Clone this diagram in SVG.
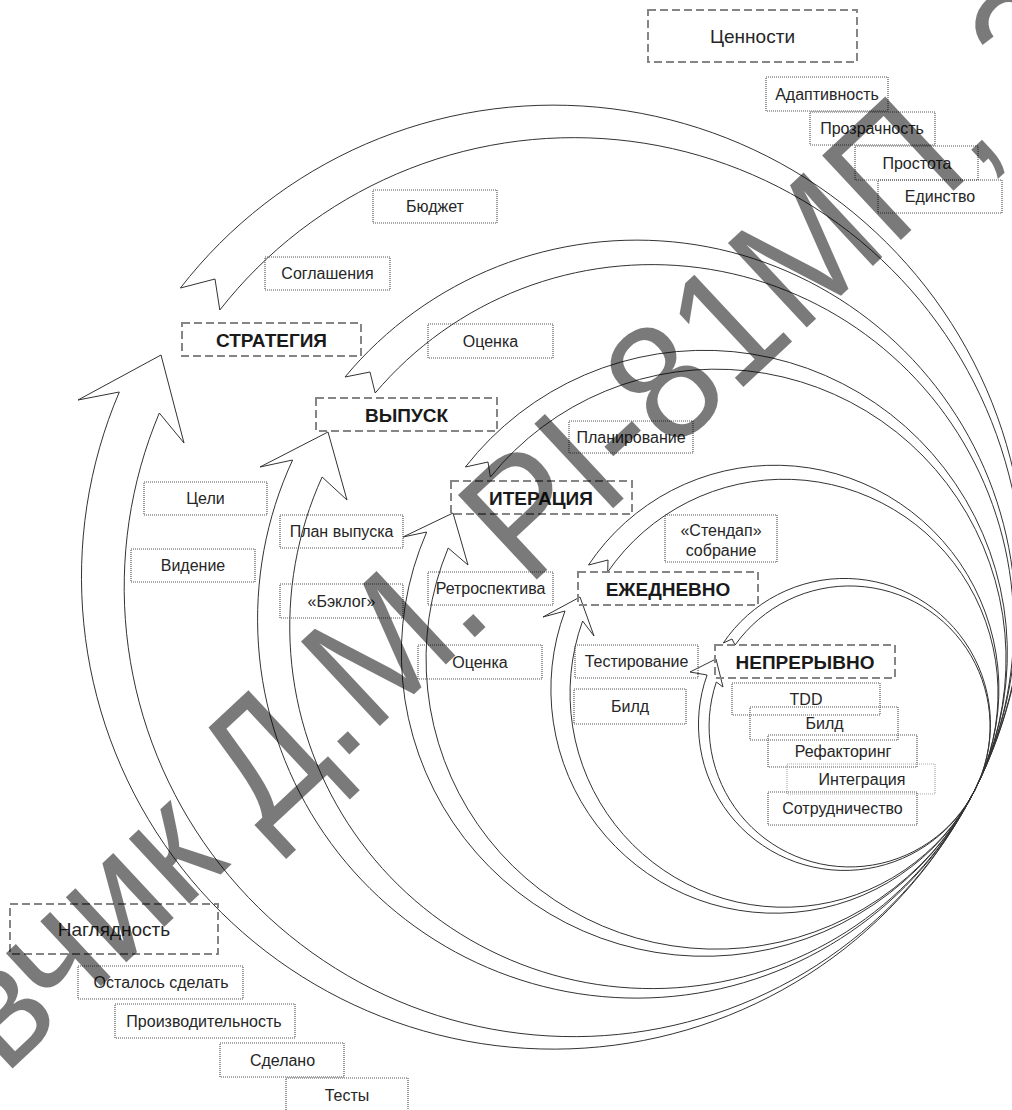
<svg xmlns="http://www.w3.org/2000/svg" width="1012" height="1110" viewBox="0 0 1012 1110">
<defs>
<style>
.ring{fill:none;stroke:#333;stroke-width:1;stroke-linejoin:miter}
.hdr{fill:none;stroke:#858585;stroke-width:2;stroke-dasharray:8 4}
.tag{fill:none;stroke:#555;stroke-width:1.2;stroke-dasharray:1 1}
.tag.light{stroke:#aaa}
.t{font-family:"Liberation Sans",Arial,sans-serif;font-size:16px;fill:#262626;text-anchor:middle;dominant-baseline:central}
.big{font-size:19px}
.h{font-family:"Liberation Sans",Arial,sans-serif;font-size:19px;font-weight:bold;fill:#1a1a1a;text-anchor:middle;dominant-baseline:central}
.wm{font-family:"Liberation Sans",Arial,sans-serif;font-size:168px;fill:#000;fill-opacity:0.52}
</style>
</defs>
<rect width="1012" height="1110" fill="#fff"/>

<!-- circular ribbon arrows, all tangent near the lower right -->
<g id="connectors">
<path id="ring-strategy" class="ring" d="M180.4,288 A472,472 0 1 1 119.3,392 L78,400 L161,355 L184,443 L159.3,413 A449.5,449.5 0 1 0 219.8,310 L215,279 Z"/>
<path id="ring-release" class="ring" d="M345,377 A379,379 0 1 1 292.6,460 L260,467 L328,432 L347,500 L322.1,477 A362,362 0 1 0 375.2,393 L370,372 Z"/>
<path id="ring-iteration" class="ring" d="M465.4,467 A303,303 0 1 1 426.7,532 L403,537 L453,513 L468,565 L448.2,548 A290,290 0 1 0 490.4,477 L488,462 Z"/>
<path id="ring-daily" class="ring" d="M588.5,565 A224,224 0 1 1 565,611 L543,617 L580,597 L594,636 L582.6,621 A214,214 0 1 0 607.7,572 L608,560 Z"/>
<path id="ring-continuous" class="ring" d="M723.3,643 A146,146 0 1 1 707.1,675 L690,672 L716,659 L723,687 L716.3,682 A140.5,140.5 0 1 0 735.1,645 L732,639 Z"/>
</g>

<!-- values -->
<g id="values"><rect class="hdr" x="648" y="10" width="209" height="52"/><text class="t big" x="752.5" y="36">Ценности</text></g>
<g id="v-adapt"><rect class="tag" x="766" y="77" width="122" height="34"/><text class="t" x="827" y="94">Адаптивность</text></g>
<g id="v-transp"><rect class="tag" x="810" y="112" width="125" height="33"/><text class="t" x="872" y="128.5">Прозрачность</text></g>
<g id="v-simple"><rect class="tag" x="855" y="146" width="123" height="34"/><text class="t" x="917" y="163">Простота</text></g>
<g id="v-unity"><rect class="tag" x="878" y="180" width="124" height="33"/><text class="t" x="940" y="196.5">Единство</text></g>

<!-- strategy level -->
<g id="strategy"><rect class="hdr" x="182" y="323" width="179" height="33"/><text class="h" x="271.5" y="340">СТРАТЕГИЯ</text></g>
<g id="budget"><rect class="tag" x="373" y="190" width="124" height="33"/><text class="t" x="435" y="206.5">Бюджет</text></g>
<g id="agreements"><rect class="tag" x="265" y="257" width="125" height="33"/><text class="t" x="327.5" y="273.5">Соглашения</text></g>
<g id="goals"><rect class="tag" x="144" y="482" width="123" height="33"/><text class="t" x="205.5" y="498.5">Цели</text></g>
<g id="vision"><rect class="tag" x="131" y="549" width="124" height="33"/><text class="t" x="193" y="565.5">Видение</text></g>

<!-- release level -->
<g id="release"><rect class="hdr" x="316" y="398" width="181" height="33"/><text class="h" x="406.5" y="415">ВЫПУСК</text></g>
<g id="estimate-1"><rect class="tag" x="428" y="324" width="125" height="34"/><text class="t" x="490.5" y="341">Оценка</text></g>
<g id="release-plan"><rect class="tag" x="280" y="515" width="123" height="33"/><text class="t" x="341.5" y="531.5">План выпуска</text></g>
<g id="backlog"><rect class="tag" x="280" y="584" width="123" height="34"/><text class="t" x="341.5" y="601">«Бэклог»</text></g>

<!-- iteration level -->
<g id="iteration"><rect class="hdr" x="451" y="481" width="181" height="33"/><text class="h" x="541" y="498">ИТЕРАЦИЯ</text></g>
<g id="planning"><rect class="tag" x="569" y="421" width="124" height="32"/><text class="t" x="631" y="437">Планирование</text></g>
<g id="retro"><rect class="tag" x="428" y="572" width="125" height="33"/><text class="t" x="490.5" y="588.5">Ретроспектива</text></g>
<g id="estimate-2"><rect class="tag" x="418" y="645" width="124" height="34"/><text class="t" x="480" y="662">Оценка</text></g>

<!-- daily level -->
<g id="daily"><rect class="hdr" x="578" y="572" width="180" height="33"/><text class="h" x="668" y="589">ЕЖЕДНЕВНО</text></g>
<g id="standup"><rect class="tag" x="665" y="515" width="112" height="47"/><text class="t" x="721" y="530">«Стендап»</text><text class="t" x="721" y="550">собрание</text></g>
<g id="testing"><rect class="tag" x="575" y="645" width="123" height="33"/><text class="t" x="636.5" y="661.5">Тестирование</text></g>
<g id="build-1"><rect class="tag" x="574" y="689" width="112" height="35"/><text class="t" x="630" y="706">Билд</text></g>

<!-- continuous level -->
<g id="continuous"><rect class="hdr" x="715" y="645" width="180" height="33"/><text class="h" x="805" y="662">НЕПРЕРЫВНО</text></g>
<g id="tdd"><rect class="tag" x="732" y="683" width="148" height="32"/><text class="t" x="806" y="699">TDD</text></g>
<g id="build-2"><rect class="tag" x="750" y="707" width="148" height="33"/><text class="t" x="824.5" y="723">Билд</text></g>
<g id="refactoring"><rect class="tag" x="768" y="735" width="149" height="32"/><text class="t" x="843" y="751">Рефакторинг</text></g>
<g id="integration"><rect class="tag light" x="787" y="764" width="148" height="30"/><text class="t" x="862" y="779">Интеграция</text></g>
<g id="collaboration"><rect class="tag" x="768" y="792" width="149" height="33"/><text class="t" x="842.5" y="808.5">Сотрудничество</text></g>

<!-- visibility -->
<g id="visibility"><rect class="hdr" x="10" y="904" width="208" height="50"/><text class="t big" x="114" y="929">Наглядность</text></g>
<g id="todo"><rect class="tag" x="78" y="966" width="165" height="33"/><text class="t" x="161" y="982.5">Осталось сделать</text></g>
<g id="velocity"><rect class="tag" x="115" y="1004" width="180" height="34"/><text class="t" x="204" y="1021">Производительность</text></g>
<g id="done"><rect class="tag" x="220" y="1043" width="124" height="34"/><text class="t" x="282.5" y="1060">Сделано</text></g>
<g id="tests"><rect class="tag" x="286" y="1078" width="122" height="36"/><text class="t" x="347" y="1095">Тесты</text></g>

<!-- author stamp across the sheet -->
<text class="wm" transform="translate(-63.6,1139.4) rotate(-43) scale(0.92,1)">Звчик Д.М. РІ-81МП, 2</text>
</svg>
